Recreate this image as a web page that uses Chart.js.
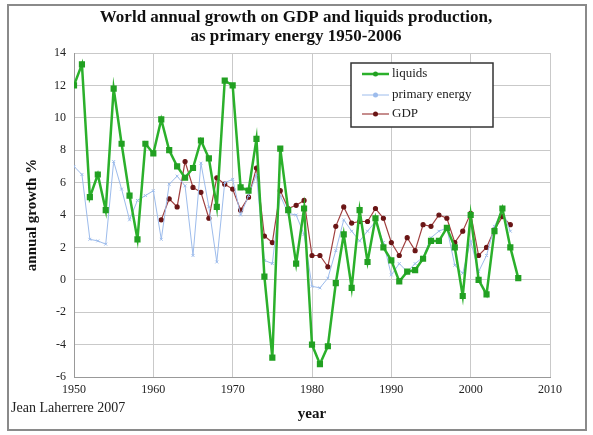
<!DOCTYPE html>
<html>
<head>
<meta charset="utf-8">
<script src="https://cdn.jsdelivr.net/npm/chart.js@4"></script>
<style>
  body { margin: 0; background: #fff; }
  #wrap { width: 593px; height: 435px; }
</style>
</head>
<body>
<div id="wrap"><canvas id="chart" width="593" height="435"></canvas></div>
<script>
// years 1950-2006
const years = [1950, 1951, 1952, 1953, 1954, 1955, 1956, 1957, 1958, 1959,
    1960, 1961, 1962, 1963, 1964, 1965, 1966, 1967, 1968, 1969,
    1970, 1971, 1972, 1973, 1974, 1975, 1976, 1977, 1978, 1979,
    1980, 1981, 1982, 1983, 1984, 1985, 1986, 1987, 1988, 1989,
    1990, 1991, 1992, 1993, 1994, 1995, 1996, 1997, 1998, 1999,
    2000, 2001, 2002, 2003, 2004, 2005, 2006];

// liquids, 1950-2006
const liquids = [12.0, 13.3, 5.1, 6.5, 4.3, 11.8, 8.4, 5.2, 2.5, 8.4,
    7.8, 9.9, 8.0, 7.0, 6.3, 6.9, 8.6, 7.5, 4.5, 12.3,
    12.0, 5.7, 5.5, 8.7, 0.2, -4.8, 8.1, 4.3, 1.0, 4.4,
    -4.0, -5.2, -4.1, -0.2, 2.8, -0.5, 4.3, 1.1, 3.8, 2.0,
    1.2, -0.1, 0.5, 0.6, 1.3, 2.4, 2.4, 3.2, 2.0, -1.0,
    4.0, 0.0, -0.9, 3.0, 4.4, 2.0, 0.1];

// primary energy, 1950-2005
const primaryEnergy = [7.0, 6.5, 2.5, 2.4, 2.2, 7.3, 5.6, 3.7, 4.9, 5.2,
    5.5, 2.5, 5.9, 6.4, 5.8, 1.5, 7.2, 4.5, 1.1, 6.0,
    6.2, 4.0, 5.2, 6.5, 1.2, 1.0, 5.2, 4.1, 4.0, 2.8,
    -0.4, -0.5, 0.1, 1.8, 3.7, 3.0, 2.4, 3.0, 3.6, 2.3,
    0.3, 1.0, 0.5, 1.0, 1.4, 2.6, 3.0, 3.2, 0.9, 0.4,
    2.4, 0.5, 1.5, 3.3, 4.3, 3.0];

// GDP, 1961-2005
const gdpStart = 11; // index of 1961 in years
const gdp = [3.7, 5.0, 4.5, 7.3, 5.7, 5.4, 3.8, 6.3, 5.9,
    5.6, 4.3, 5.1, 6.9, 2.7, 2.3, 5.5, 4.4, 4.6, 4.9,
    1.5, 1.5, 0.8, 3.3, 4.5, 3.5, 3.6, 3.6, 4.4, 3.8,
    2.3, 1.5, 2.6, 1.8, 3.4, 3.3, 4.0, 3.8, 2.3, 3.0,
    4.1, 1.5, 2.0, 3.1, 3.9, 3.4];

const xTicks = [1950, 1960, 1970, 1980, 1990, 2000, 2010];
const yTicks = [-6, -4, -2, 0, 2, 4, 6, 8, 10, 12, 14];
const titleLines = ['World annual growth on GDP and liquids production,', 'as primary energy 1950-2006'];

const serif = '"Liberation Serif", "DejaVu Serif", serif';

function pts(vals, offset) {
    return vals.map((v, i) => ({ x: years[i + offset], y: v }));
}

// frame, title, credit line and legend box
const extras = {
    id: 'extras',
    beforeDraw(chart) {
        const ctx = chart.ctx;
        ctx.save();
        ctx.fillStyle = '#fff';
        ctx.fillRect(0, 0, chart.width, chart.height);
        ctx.strokeStyle = '#8a8a8a';
        ctx.lineWidth = 2;
        ctx.strokeRect(8, 5, 578, 425);
        ctx.restore();
    },
    afterDraw(chart) {
        const ctx = chart.ctx;
        ctx.save();
        ctx.textBaseline = 'middle';
        ctx.fillStyle = '#111';
        ctx.font = 'bold 17px ' + serif;
        ctx.textAlign = 'center';
        ctx.fillText(titleLines[0], 296, 18);
        ctx.fillText(titleLines[1], 296, 37);

        ctx.textAlign = 'left';
        ctx.font = '14px ' + serif;
        ctx.fillStyle = '#222';
        ctx.fillText('Jean Laherrere 2007', 11, 408);

        // legend
        ctx.fillStyle = '#fff';
        ctx.fillRect(351, 63, 142, 64);
        ctx.strokeStyle = '#333';
        ctx.lineWidth = 1.5;
        ctx.strokeRect(351, 63, 142, 64);
        const rows = [74, 95, 114];
        chart.data.datasets.forEach((ds, i) => {
            const y = rows[i];
            ctx.strokeStyle = ds.borderColor;
            ctx.lineWidth = ds.borderWidth;
            ctx.beginPath();
            ctx.moveTo(362, y);
            ctx.lineTo(389, y);
            ctx.stroke();
            ctx.fillStyle = ds.pointBackgroundColor;
            ctx.beginPath();
            ctx.arc(375.5, y, 2.5, 0, Math.PI * 2);
            ctx.fill();
            ctx.fillStyle = '#222';
            ctx.font = '13px ' + serif;
            ctx.fillText(ds.label, 392, y);
        });
        ctx.restore();
    }
};

new Chart(document.getElementById('chart').getContext('2d'), {
    type: 'line',
    data: {
        datasets: [{
            label: 'liquids',
            data: pts(liquids, 0),
            borderColor: '#2bb02b',
            backgroundColor: '#2bb02b',
            pointBackgroundColor: '#22a022',
            pointBorderColor: '#22a022',
            pointStyle: 'rect',
            pointRadius: 2.6,
            borderWidth: 2.5,
            tension: 0
        }, {
            label: 'primary energy',
            data: pts(primaryEnergy, 0),
            borderColor: '#9dbcec',
            backgroundColor: '#9dbcec',
            pointBackgroundColor: '#9dbcec',
            pointBorderColor: '#9dbcec',
            pointStyle: 'crossRot',
            pointRadius: 2,
            borderWidth: 1,
            tension: 0
        }, {
            label: 'GDP',
            data: pts(gdp, gdpStart),
            borderColor: '#a04040',
            backgroundColor: '#a04040',
            pointBackgroundColor: '#6a1515',
            pointBorderColor: '#6a1515',
            pointStyle: 'circle',
            pointRadius: 2,
            borderWidth: 1.2,
            tension: 0
        }]
    },
    options: {
        responsive: false,
        animation: false,
        devicePixelRatio: 1,
        layout: { padding: { left: 19, right: 43, top: 53, bottom: 8 } },
        plugins: {
            legend: { display: false },
            tooltip: { enabled: false },
            title: { display: false }
        },
        scales: {
            x: {
                type: 'linear',
                min: 1950,
                max: 2010,
                afterBuildTicks: s => { s.ticks = xTicks.map(v => ({ value: v })); },
                afterFit: s => { s.height = 50; },
                ticks: {
                    color: '#222',
                    font: { family: serif, size: 12 },
                    padding: 6,
                    maxRotation: 0,
                    callback: v => String(v)
                },
                grid: { color: '#c9c9c9', lineWidth: 1, drawTicks: false },
                border: { color: '#999', width: 1 },
                title: {
                    display: true,
                    text: 'year',
                    color: '#111',
                    font: { family: serif, size: 15, weight: 'bold' },
                    padding: { top: 8 }
                }
            },
            y: {
                min: -6,
                max: 14,
                afterBuildTicks: s => { s.ticks = yTicks.map(v => ({ value: v })); },
                afterFit: s => { s.width = 55; },
                ticks: {
                    color: '#222',
                    font: { family: serif, size: 12 },
                    padding: 8
                },
                grid: { color: '#c9c9c9', lineWidth: 1, drawTicks: false },
                border: { color: '#999', width: 1 },
                title: {
                    display: true,
                    text: 'annual growth %',
                    color: '#111',
                    font: { family: serif, size: 15, weight: 'bold' },
                    padding: { bottom: 4 }
                }
            }
        }
    },
    plugins: [extras]
});
</script>
</body>
</html>
